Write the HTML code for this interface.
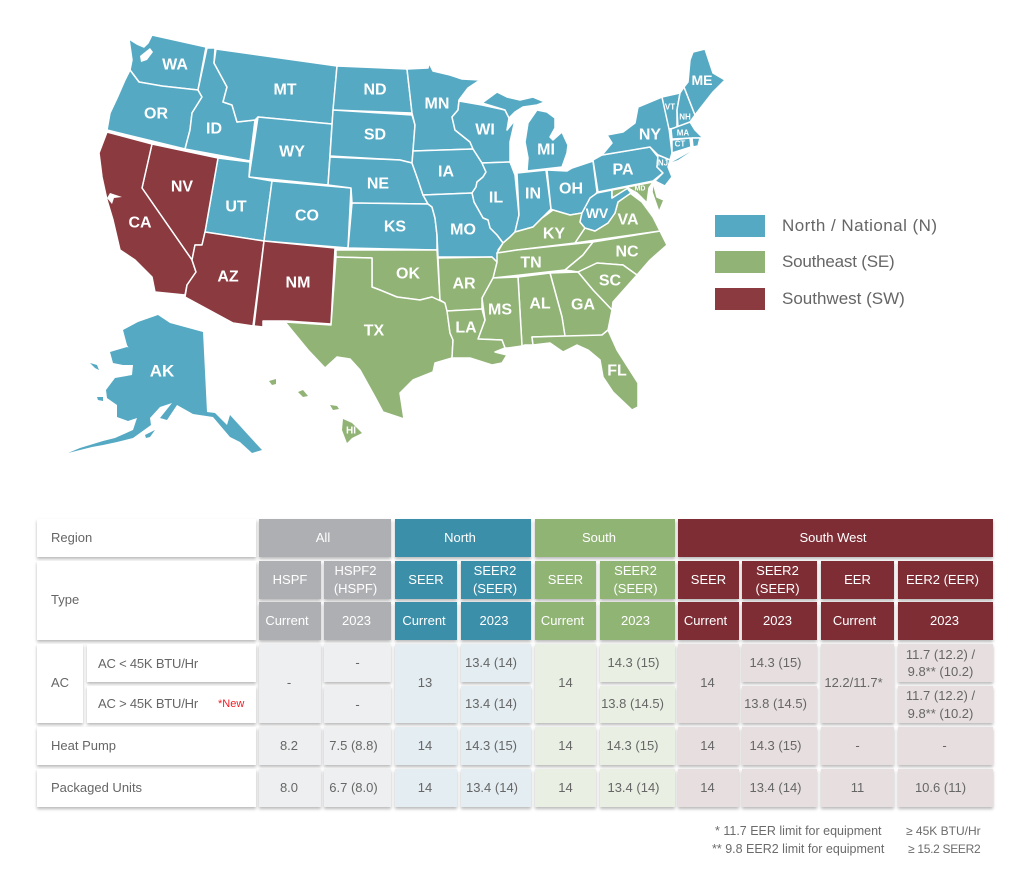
<!DOCTYPE html>
<html lang="en">
<head>
<meta charset="utf-8">
<title>Regional HVAC efficiency standards</title>
<style>
html,body{margin:0;padding:0;background:#fff}
#page{position:relative;width:1030px;height:882px;overflow:hidden;background:#fff;font-family:"Liberation Sans",sans-serif}
#map{position:absolute;left:0;top:0}
#map polygon{stroke:#fff;stroke-width:1.5;stroke-linejoin:round}
#map .n{fill:#55a9c3}
#map .s{fill:#91b376}
#map .w{fill:#8b3a40}
#map .i{stroke:none}
#map .h{fill:#fff;stroke:none}
#map text{fill:#fff;font-family:"Liberation Sans",sans-serif;font-weight:bold;font-size:16px;text-anchor:middle;dominant-baseline:central}
#map text.t{font-size:8px}
.lg{position:absolute;left:715px;width:50px;height:22px}
.lt{position:absolute;left:782px;font-size:17px;color:#666;line-height:22px;white-space:nowrap}
.c{position:absolute;display:flex;align-items:center;justify-content:center;text-align:center;font-size:13px;line-height:18px;color:#666;box-shadow:0 2px 3px rgba(0,0,0,.28);box-sizing:border-box;white-space:nowrap}
.l{background:#fff;justify-content:flex-start;padding-left:14px}
.ha{background:#aeafb2;color:#fff}
.hn{background:#3c8fa9;color:#fff}
.hs{background:#90b474;color:#fff}
.hw{background:#7f2d35;color:#fff}
.ca{background:#eeeff0}
.cn{background:#e4edf2}
.cs{background:#e9f0e3}
.cw{background:#e7dfdf}
.m1{padding-right:2px}
.m2{padding-right:4px}
.m3{padding-right:6px}
.m4{padding-right:8px}
.m5{padding-right:10px}
.new{position:absolute;left:131px;top:11px;font-size:11px;line-height:14px;color:#f01c24}
.f{position:absolute;font-size:12.5px;line-height:16px;color:#6b6b6b;white-space:nowrap}
</style>
</head>
<body>
<div id="page">
<svg id="map" width="1030" height="500" viewBox="0 0 1030 500">
<polygon class="n" points="129,39 137,44 144,47 148,43 152,35 206,47 198,90 162,86 139,82 130,70 132,60"/>
<polygon class="h" points="140,56 150,48 153,52 147,60 141,62"/>
<polygon class="n" points="130,70 139,82 162,86 198,90 202,97 192,113 190,130 185,149 107,130 110,113 118,96 125,80"/>
<polygon class="n" points="207,48 215,48 214,63 227,87 223,102 232,105 237,122 255,120 250,161 185,149 190,130 192,113 202,97 198,90"/>
<polygon class="n" points="216,49 337,66 332,124 258,117 255,120 237,122 232,105 223,102 227,87 214,63"/>
<polygon class="n" points="258,117 332,124 328,185 249,177"/>
<polygon class="n" points="218,158 250,162 249,177 272,181 264,241 205,232"/>
<polygon class="n" points="272,181 351,188 348,248 264,241"/>
<polygon class="w" points="152,144 218,158 205,232 202,245 195,245 192,260 142,188"/>
<polygon class="w" points="107,132 152,144 142,188 192,260 196,272 187,285 185,295 155,292 152,277 135,260 120,250 113,220 107,200 102,177 99,153"/>
<polygon class="h" points="107,198 110,193 116,195 122,197 114,198 112,204"/>
<polygon class="w" points="205,232 264,241 253,326 233,323 185,297 187,285 196,272 192,260 195,245 202,245"/>
<polygon class="w" points="264,241 335,248 331,324 287,321 263,321 263,327 254,326"/>
<polygon class="n" points="337,66 407,69 412,113 333,110"/>
<polygon class="n" points="333,110 412,115 415,125 413,151 412,163 400,160 330,156"/>
<polygon class="n" points="330,157 400,160 412,163 418,180 423,195 428,204 352,203 351,188 328,185"/>
<polygon class="n" points="352,203 428,204 432,207 435,218 437,235 437,250 348,248"/>
<polygon class="s" points="336,250 437,250 440,300 445,303 432,297 420,300 397,297 380,290 372,287 372,258 336,257"/>
<polygon class="s" points="336,257 372,258 372,287 380,290 397,297 420,300 432,297 445,303 447,310 450,333 453,340 452,358 435,363 433,372 413,380 400,393 404,419 383,412 375,397 360,370 350,359 337,357 325,368 308,350 285,322 331,325 336,257"/>
<polygon class="n" points="407,69 428,68 429,63 433,71 450,75 462,79 480,80 468,88 459,100 458,110 452,117 455,130 470,142 473,149 413,151 415,125 412,113"/>
<polygon class="n" points="413,151 473,149 482,163 486,172 483,177 477,182 476,187 472,193 423,195 418,180 412,163"/>
<polygon class="n" points="459,101 482,105 505,110 509,118 507,130 515,120 510,142 510,162 482,163 473,149 470,142 455,130 452,117 458,110"/>
<polygon class="n" points="482,163 510,162 515,175 519,215 515,232 510,237 503,243 497,235 490,228 488,220 483,218 474,202 472,193 476,187 477,182 483,177 486,172"/>
<polygon class="n" points="423,195 472,193 474,202 483,218 488,220 490,228 497,235 503,243 498,250 500,253 497,262 492,257 438,257 437,235 435,218 432,207 428,204"/>
<polygon class="n" points="517,173 546,170 551,209 542,218 533,227 515,232 519,215"/>
<polygon class="n" points="547,170 567,171 572,168 593,161 597,192 582,213 570,215 553,210 551,209"/>
<polygon class="n" points="482,103 497,92 507,97 520,100 533,97 545,102 537,105 523,107 515,112 509,118 505,110"/>
<polygon class="n" points="537,110 547,112 555,118 555,128 550,137 553,140 562,132 568,145 567,153 562,167 527,171 528,158 525,142 528,123"/>
<polygon class="s" points="497,253 503,243 510,237 515,232 533,227 542,218 553,210 570,215 582,213 580,222 585,228 575,243 517,250"/>
<polygon class="s" points="497,253 517,250 593,242 583,255 565,270 493,278 497,262"/>
<polygon class="s" points="593,242 660,231 667,245 650,260 637,275 623,265 597,263 578,272 565,270 583,255"/>
<polygon class="s" points="585,228 595,231 608,223 615,213 618,202 630,193 642,202 653,217 660,231 575,243"/>
<polygon class="n" points="597,193 612,190 612,198 627,188 631,193 618,202 615,213 608,223 595,231 585,228 580,222 582,213 590,198"/>
<polygon class="n" points="593,160 602,155 650,147 658,157 657,167 663,173 653,181 598,192"/>
<polygon class="n" points="602,155 612,143 607,135 623,132 635,123 638,107 662,97 668,120 672,153 670,160 658,155 650,147"/>
<polygon class="n i" points="672,162 690,152 678,160"/>
<polygon class="n" points="662,97 680,93 677,110 677,128 669,129"/>
<polygon class="n" points="680,93 684,87 695,115 690,122 678,128 677,110"/>
<polygon class="n" points="684,87 688,82 690,60 693,52 705,49 713,73 725,80 713,92 695,115"/>
<polygon class="n" points="671,129 690,122 695,130 703,138 693,138 672,139"/>
<polygon class="n" points="672,140 690,138 691,147 672,153"/>
<polygon class="n" points="692,138 700,138 698,146 693,147"/>
<polygon class="n" points="658,155 670,160 668,167 672,177 665,186 655,181 663,173 657,167"/>
<polygon class="s" points="612,190 653,182 649,188 647,203 637,193 628,188 612,198"/>
<polygon class="s" points="653,182 657,197 664,200 659,212 652,192"/>
<polygon class="s" points="578,272 597,263 623,265 637,275 613,302 612,310 593,290"/>
<polygon class="s" points="550,273 578,272 593,290 612,310 608,330 602,335 565,337 562,317"/>
<polygon class="s" points="518,277 550,273 562,317 565,336 532,337 533,345 525,345 522,346"/>
<polygon class="s" points="492,278 518,277 522,346 508,348 505,348 502,340 478,339 485,320 482,298"/>
<polygon class="s" points="438,258 492,257 497,262 493,278 482,298 482,309 447,311 445,303 440,300"/>
<polygon class="s" points="447,311 482,309 485,320 478,339 502,340 505,348 495,352 507,355 502,363 492,365 470,358 452,358 453,340 450,333"/>
<polygon class="s" points="532,337 565,336 602,335 608,330 617,350 638,383 638,407 632,410 613,392 603,377 600,360 588,350 577,345 563,352 550,343 533,345"/>
<polygon class="n i" points="123,330 138,322 158,315 170,323 203,332 207,412 215,413 227,425 230,415 250,437 262,450 252,453 240,442 230,437 213,417 193,414 177,405 167,420 160,418 172,403 160,407 150,418 151,425 133,438 117,442 103,445 92,447 68,453 80,448 103,441 115,438 133,430 137,418 128,421 117,417 117,405 107,398 106,390 115,378 132,375 133,365 123,365 113,363 110,352 127,347 138,352 131,352 127,345"/>
<polygon class="n i" points="90,363 97,365 99,370 95,368"/>
<polygon class="n i" points="97,397 103,397 103,401 98,400"/>
<polygon class="n i" points="145,435 155,430 150,437 146,438"/>
<polygon class="s i" points="269,381 276,379 276,384 272,385"/>
<polygon class="s i" points="298,392 303,390 308,396 303,397"/>
<polygon class="s i" points="330,405 337,406 339,409 333,410"/>
<polygon class="s i" points="343,419 352,423 362,433 352,438 347,443 342,430"/>
<text x="175" y="65">WA</text>
<text x="156" y="114">OR</text>
<text x="214" y="129">ID</text>
<text x="285" y="90">MT</text>
<text x="375" y="90">ND</text>
<text x="375" y="135">SD</text>
<text x="292" y="152">WY</text>
<text x="378" y="184">NE</text>
<text x="182" y="187">NV</text>
<text x="236" y="207">UT</text>
<text x="307" y="216">CO</text>
<text x="395" y="227">KS</text>
<text x="437" y="104">MN</text>
<text x="485" y="130">WI</text>
<text x="446" y="172">IA</text>
<text x="496" y="198">IL</text>
<text x="546" y="150">MI</text>
<text x="533" y="194">IN</text>
<text x="571" y="189">OH</text>
<text x="650" y="135">NY</text>
<text x="623" y="170">PA</text>
<text x="702" y="80" style="font-size:14px">ME</text>
<text class="t" x="670" y="107">VT</text>
<text class="t" x="685" y="117">NH</text>
<text class="t" x="683" y="133">MA</text>
<text class="t" x="680" y="144">CT</text>
<text class="t" x="663" y="163">NJ</text>
<text class="t" x="640" y="189" style="font-size:7px">MD</text>
<text x="597" y="213" style="font-size:14px">WV</text>
<text x="628" y="220">VA</text>
<text x="554" y="234">KY</text>
<text x="627" y="252">NC</text>
<text x="531" y="263">TN</text>
<text x="610" y="281">SC</text>
<text x="583" y="305">GA</text>
<text x="540" y="304">AL</text>
<text x="500" y="310">MS</text>
<text x="464" y="284">AR</text>
<text x="466" y="328">LA</text>
<text x="408" y="274">OK</text>
<text x="463" y="230">MO</text>
<text x="374" y="331">TX</text>
<text x="617" y="371">FL</text>
<text x="140" y="223">CA</text>
<text x="228" y="277">AZ</text>
<text x="298" y="283">NM</text>
<text x="162" y="371" style="font-size:17px">AK</text>
<text x="351" y="431" style="font-size:10px">HI</text>
</svg>

<div class="lg" style="top:215px;background:#55a9c3"></div>
<div class="lt" style="top:215px;letter-spacing:.45px">North / National (N)</div>
<div class="lg" style="top:251px;background:#91b376"></div>
<div class="lt" style="top:251px;letter-spacing:-.2px">Southeast (SE)</div>
<div class="lg" style="top:288px;background:#8b3a40"></div>
<div class="lt" style="top:288px">Southwest (SW)</div>

<div class="c l" style="left:37px;top:519px;width:219px;height:38px">Region</div>
<div class="c ha m2" style="left:259px;top:519px;width:132px;height:38px">All</div>
<div class="c hn m3" style="left:395px;top:519px;width:136px;height:38px">North</div>
<div class="c hs m5" style="left:535px;top:519px;width:140px;height:38px;padding-right:12px">South</div>
<div class="c hw" style="left:678px;top:519px;width:315px;height:38px;padding-right:5px">South West</div>

<div class="c l" style="left:37px;top:561px;width:219px;height:79px;padding-bottom:2px">Type</div>
<div class="c ha" style="left:259px;top:561px;width:62px;height:38px">HSPF</div>
<div class="c ha m2" style="left:324px;top:561px;width:67px;height:38px">HSPF2<br>(HSPF)</div>
<div class="c hn" style="left:395px;top:561px;width:62px;height:38px">SEER</div>
<div class="c hn m1" style="left:461px;top:561px;width:70px;height:38px">SEER2<br>(SEER)</div>
<div class="c hs" style="left:535px;top:561px;width:61px;height:38px">SEER</div>
<div class="c hs m2" style="left:600px;top:561px;width:75px;height:38px">SEER2<br>(SEER)</div>
<div class="c hw" style="left:678px;top:561px;width:61px;height:38px">SEER</div>
<div class="c hw m2" style="left:742px;top:561px;width:75px;height:38px">SEER2<br>(SEER)</div>
<div class="c hw" style="left:821px;top:561px;width:73px;height:38px">EER</div>
<div class="c hw m3" style="left:898px;top:561px;width:95px;height:38px">EER2 (EER)</div>

<div class="c ha m3" style="left:259px;top:602px;width:62px;height:38px">Current</div>
<div class="c ha m1" style="left:324px;top:602px;width:67px;height:38px">2023</div>
<div class="c hn m2" style="left:395px;top:602px;width:62px;height:38px">Current</div>
<div class="c hn m2" style="left:461px;top:602px;width:70px;height:38px">2023</div>
<div class="c hs m3" style="left:535px;top:602px;width:61px;height:38px">Current</div>
<div class="c hs m2" style="left:600px;top:602px;width:75px;height:38px">2023</div>
<div class="c hw m3" style="left:678px;top:602px;width:61px;height:38px">Current</div>
<div class="c hw m2" style="left:742px;top:602px;width:75px;height:38px">2023</div>
<div class="c hw m3" style="left:821px;top:602px;width:73px;height:38px">Current</div>
<div class="c hw m1" style="left:898px;top:602px;width:95px;height:38px">2023</div>

<div class="c l" style="left:37px;top:644px;width:46px;height:79px;padding-bottom:2px">AC</div>
<div class="c l" style="left:87px;top:644px;width:169px;height:38px;padding-left:11px;letter-spacing:-.2px;padding-top:1px">AC &lt; 45K BTU/Hr</div>
<div class="c l" style="left:87px;top:686px;width:169px;height:37px;padding-left:11px;letter-spacing:-.2px;padding-bottom:1px">AC &gt; 45K BTU/Hr<span class="new" style="letter-spacing:0">*New</span></div>

<div class="c ca m1" style="left:259px;top:644px;width:62px;height:79px;padding-bottom:2px">-</div>
<div class="c ca" style="left:324px;top:644px;width:67px;height:38px">-</div>
<div class="c ca" style="left:324px;top:686px;width:67px;height:37px">-</div>
<div class="c cn m1" style="left:395px;top:644px;width:62px;height:79px;padding-bottom:2px">13</div>
<div class="c cn m5" style="left:461px;top:644px;width:70px;height:38px">13.4 (14)</div>
<div class="c cn m5" style="left:461px;top:686px;width:70px;height:37px;padding-bottom:1px">13.4 (14)</div>
<div class="c cs" style="left:535px;top:644px;width:61px;height:79px;padding-bottom:2px">14</div>
<div class="c cs m4" style="left:600px;top:644px;width:75px;height:38px">14.3 (15)</div>
<div class="c cs m5" style="left:600px;top:686px;width:75px;height:37px;padding-bottom:1px">13.8 (14.5)</div>
<div class="c cw m1" style="left:678px;top:644px;width:61px;height:79px;padding-bottom:2px">14</div>
<div class="c cw m4" style="left:742px;top:644px;width:75px;height:38px">14.3 (15)</div>
<div class="c cw m4" style="left:742px;top:686px;width:75px;height:37px;padding-bottom:1px">13.8 (14.5)</div>
<div class="c cw m4" style="left:821px;top:644px;width:73px;height:79px;padding-bottom:2px">12.2/11.7*</div>
<div class="c cw m5" style="left:898px;top:644px;width:95px;height:38px;line-height:17px">11.7 (12.2) /<br>9.8** (10.2)</div>
<div class="c cw m5" style="left:898px;top:686px;width:95px;height:37px">11.7 (12.2) /<br>9.8** (10.2)</div>

<div class="c l" style="left:37px;top:727px;width:219px;height:38px">Heat Pump</div>
<div class="c ca m1" style="left:259px;top:727px;width:62px;height:38px">8.2</div>
<div class="c ca m4" style="left:324px;top:727px;width:67px;height:38px">7.5 (8.8)</div>
<div class="c cn m1" style="left:395px;top:727px;width:62px;height:38px">14</div>
<div class="c cn m5" style="left:461px;top:727px;width:70px;height:38px">14.3 (15)</div>
<div class="c cs" style="left:535px;top:727px;width:61px;height:38px">14</div>
<div class="c cs m5" style="left:600px;top:727px;width:75px;height:38px">14.3 (15)</div>
<div class="c cw m1" style="left:678px;top:727px;width:61px;height:38px">14</div>
<div class="c cw m4" style="left:742px;top:727px;width:75px;height:38px">14.3 (15)</div>
<div class="c cw" style="left:821px;top:727px;width:73px;height:38px">-</div>
<div class="c cw m1" style="left:898px;top:727px;width:95px;height:38px">-</div>

<div class="c l" style="left:37px;top:769px;width:219px;height:38px">Packaged Units</div>
<div class="c ca m1" style="left:259px;top:769px;width:62px;height:38px">8.0</div>
<div class="c ca m4" style="left:324px;top:769px;width:67px;height:38px">6.7 (8.0)</div>
<div class="c cn m1" style="left:395px;top:769px;width:62px;height:38px">14</div>
<div class="c cn m4" style="left:461px;top:769px;width:70px;height:38px">13.4 (14)</div>
<div class="c cs" style="left:535px;top:769px;width:61px;height:38px">14</div>
<div class="c cs m4" style="left:600px;top:769px;width:75px;height:38px">13.4 (14)</div>
<div class="c cw m1" style="left:678px;top:769px;width:61px;height:38px">14</div>
<div class="c cw m4" style="left:742px;top:769px;width:75px;height:38px">13.4 (14)</div>
<div class="c cw" style="left:821px;top:769px;width:73px;height:38px">11</div>
<div class="c cw m5" style="left:898px;top:769px;width:95px;height:38px">10.6 (11)</div>

<div class="f" style="left:715px;top:823px">* 11.7 EER limit for equipment</div>
<div class="f" style="left:906px;top:823px;font-size:12px">≥ 45K BTU/Hr</div>
<div class="f" style="left:712px;top:841px">** 9.8 EER2 limit for equipment</div>
<div class="f" style="left:908px;top:841px;font-size:12px;letter-spacing:-.3px">≥ 15.2 SEER2</div>
</div>
</body>
</html>
